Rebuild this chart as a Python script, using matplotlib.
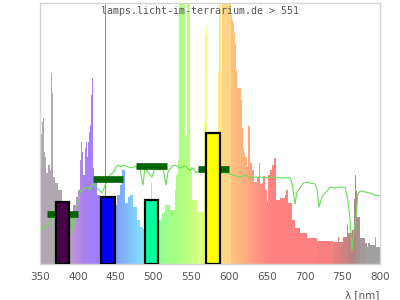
import matplotlib
matplotlib.use('Agg')
import matplotlib.pyplot as plt
import numpy as np
from matplotlib.colors import to_rgb

# lamp spectrum: left edge of each band (nm) and relative intensity (%)
spec_wl = [350.0, 351.3, 352.6, 354.0, 355.3, 356.6, 357.9, 360.6, 363.2, 364.6,
           365.9, 367.2, 369.9, 373.8, 379.1, 391.0, 394.0, 397.0, 400.3, 402.9,
           404.3, 405.6, 406.9, 409.6, 410.9, 412.2, 413.5, 414.9, 416.2, 417.5,
           418.8, 420.1, 421.5, 425.4, 429.4, 436.0, 437.4, 449.3, 451.9, 455.9,
           458.5, 462.5, 466.5, 469.1, 473.1, 478.4, 482.4, 486.3, 497.5, 498.8,
           507.5, 511.5, 515.4, 522.1, 528.7, 530.0, 532.6, 534.0, 541.9, 544.6,
           548.5, 551.2, 557.8, 567.1, 568.4, 569.7, 571.0, 585.6, 586.9, 589.6,
           590.9, 602.8, 604.1, 605.4, 606.8, 608.1, 609.4, 610.7, 616.0, 617.4,
           618.7, 620.0, 621.3, 624.0, 625.3, 627.9, 630.6, 633.2, 637.2, 639.8,
           641.2, 643.8, 645.1, 647.8, 650.4, 651.8, 654.4, 657.1, 659.7, 662.3,
           667.6, 674.3, 675.6, 678.2, 683.5, 687.5, 694.1, 703.4, 716.6, 737.8,
           744.4, 745.7, 750.7, 756.0, 757.3, 762.6, 765.2, 766.5, 767.8, 769.2,
           773.5, 780.1, 782.8, 784.1, 786.8, 790.7, 793.4, 794.7]
spec_val = [46.7, 50.0, 54.4, 55.9, 42.9, 41.0, 34.9, 37.9, 36.0, 73.2,
            65.5, 33.3, 31.0, 28.4, 20.0, 19.9, 22.6, 25.5, 28.4, 40.0,
            46.7, 42.9, 34.0, 44.4, 46.7, 41.0, 46.7, 50.6, 53.3, 64.8,
            71.3, 36.8, 32.2, 26.4, 24.5, 110, 26.0, 22.6, 26.4, 30.3,
            36.0, 23.4, 25.7, 26.4, 21.8, 16.9, 14.2, 13.5, 31.4, 13.0,
            16.9, 19.5, 22.6, 20.7, 28.4, 34.1, 39.8, 110, 49.4, 110,
            37.2, 24.5, 19.9, 54.4, 87.4, 90.8, 40.0, 73.6, 110, 73.6,
            110, 95.4, 93.5, 92.3, 88.5, 84.7, 74.3, 67.4, 62.8, 52.0,
            44.4, 42.5, 41.0, 37.2, 52.9, 38.7, 36.0, 31.4, 33.3, 38.7,
            30.7, 31.0, 33.7, 28.4, 23.8, 34.1, 36.0, 37.9, 40.6, 24.5,
            25.3, 26.4, 28.4, 23.4, 16.9, 13.8, 11.9, 10.0, 8.8, 8.4,
            10.3, 8.4, 10.3, 14.9, 11.9, 13.0, 25.0, 34.1, 28.0, 18.0,
            10.0, 8.0, 6.5, 8.0, 7.3, 7.3, 10.3, 6.5]

# daylight reference curve
sun_wl = [352.6, 356.6, 360.6, 363.2, 369.9, 376.5, 383.1, 389.7, 392.4, 393.7,
          395.0, 397.6, 401.6, 402.9, 406.9, 409.6, 413.5, 416.2, 420.1, 424.1,
          428.1, 432.1, 437.4, 442.6, 446.6, 450.6, 453.2, 457.2, 459.9, 466.5,
          471.8, 477.0, 482.4, 486.3, 489.0, 492.9, 498.2, 502.2, 508.8, 512.8,
          516.8, 519.4, 524.7, 528.7, 535.3, 541.9, 548.5, 552.5, 556.5, 561.8,
          568.4, 581.6, 592.2, 597.5, 605.4, 614.7, 621.3, 627.9, 634.6, 641.2,
          647.8, 654.4, 661.0, 667.6, 674.3, 680.9, 683.5, 687.5, 690.1, 694.1,
          698.1, 703.4, 707.3, 714.0, 716.6, 719.3, 723.2, 727.2, 731.2, 733.8,
          740.4, 747.0, 753.7, 757.6, 760.3, 762.9, 765.6, 768.2, 770.9, 774.8,
          780.1, 786.8, 793.4, 800.0]
sun_val = [13.0, 14.2, 14.9, 16.9, 17.6, 17.6, 18.0, 18.4, 18.0, 11.9,
           16.1, 21.8, 24.5, 27.6, 28.4, 29.1, 29.5, 28.4, 31.0, 29.5,
           28.4, 27.2, 31.0, 34.1, 34.9, 37.2, 37.9, 37.2, 37.9, 37.2,
           36.8, 37.5, 36.0, 30.3, 36.8, 35.2, 33.3, 36.8, 36.0, 36.8,
           30.3, 35.2, 37.5, 37.9, 36.8, 37.5, 36.0, 36.8, 34.9, 36.0,
           35.2, 35.2, 34.9, 34.9, 34.1, 33.3, 34.1, 33.0, 33.3, 33.3,
           33.0, 33.3, 33.3, 33.0, 33.0, 33.0, 31.0, 23.0, 27.6, 29.1,
           31.0, 31.4, 31.0, 30.7, 28.4, 21.8, 25.7, 27.2, 28.4, 29.5,
           29.1, 29.5, 29.5, 24.5, 16.9, 5.4, 13.0, 18.0, 27.2, 28.0,
           27.6, 27.2, 26.4, 26.1]

# band averages (lamp vs. daylight)
band_center = [380, 440, 497.5, 579]
band_lamp = [23.8, 25.7, 24.5, 50.2]
band_sun = [19.0, 32.4, 37.4, 36.3]
band_colors = ['#480048', '#0000ff', '#00ffa0', '#ffff00']

# pastel colour for each wavelength
col_anchor_wl = [350, 378, 395, 410, 425, 436, 445, 460, 480, 495, 510, 530,
                 545, 560, 572, 585, 595, 605, 620, 640, 660, 720, 745, 765, 780, 800]
col_anchor = ['#b0a8b0', '#b0a8b0', '#c090d8', '#a880f0', '#a080ff', '#8080ff',
              '#8098ff', '#80b0ff', '#80d8ff', '#80f8e0', '#90ff90', '#a8ff80',
              '#b8ff80', '#d8ff80', '#f0ff80', '#fff080', '#ffd888', '#ffc080',
              '#ffb080', '#ff9080', '#ff8080', '#ff8080', '#e08080', '#b08484',
              '#a0a0a0', '#a0a0a0']


def wl_color(w):
    rgb = np.array([to_rgb(c) for c in col_anchor])
    return tuple(np.interp(w, col_anchor_wl, rgb[:, i]) for i in range(3))


def main():
    widths = np.diff(spec_wl + [800.0])
    mids = np.array(spec_wl) + widths / 2
    colors = [wl_color(m) for m in mids]

    fig = plt.figure(figsize=(4, 3), dpi=100)
    ax = fig.add_axes([0.1, 0.12, 0.85, 0.87])

    ax.bar(spec_wl, spec_val, width=widths, align='edge', color=colors,
           linewidth=0, antialiased=False, zorder=1)
    ax.plot(sun_wl, sun_val, color='#66dd55', linewidth=0.8, zorder=2)
    c = np.array(band_center)
    ax.hlines(band_sun, c - 20.5, c + 20.5, colors='#006400', linewidth=4.8, zorder=3)
    ax.bar(band_center, band_lamp, width=18, color=band_colors,
           edgecolor='black', linewidth=1.6, zorder=4)

    ax.set_xlim(350, 800)
    ax.set_ylim(0, 100)
    ax.set_yticks([])
    ax.set_xticks(range(350, 801, 50))
    ax.tick_params(axis='x', length=0, labelsize=7.5, colors='#555555', pad=6)
    for s in ax.spines.values():
        s.set_color('#d4d4d4')
        s.set_linewidth(1)

    # title is centred on the whole image, not the plot area
    fig.text(0.501, 0.963, 'lamps.licht-im-terrarium.de > 551',
             ha='center', va='center', family='DejaVu Sans Mono', fontsize=7.2,
             color='#555555', zorder=5)
    fig.text(0.948, 0.018, 'λ [nm]', ha='right', va='center', fontsize=7.5,
             color='#555555')

    fig.savefig('out.png', dpi=100)


if __name__ == "__main__":
    main()
